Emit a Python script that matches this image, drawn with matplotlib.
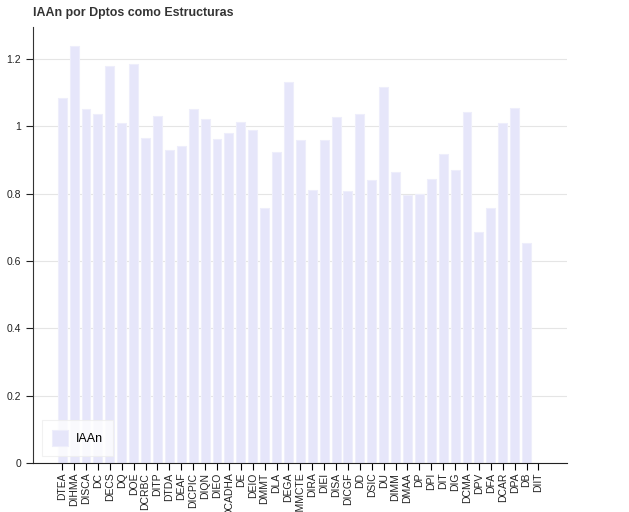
import matplotlib
matplotlib.use("Agg")
import matplotlib.pyplot as plt
from matplotlib.ticker import FuncFormatter

plt.rcParams['font.family'] = ['Liberation Sans', 'DejaVu Sans']

categories = ["DTEA", "DIHMA", "DISCA", "DC", "DECS", "DQ", "DOE", "DCRBC", "DITP",
              "DTDA", "DEAF", "DICPIC", "DIQN", "DIEO", "DCADHA", "DE", "DEIO", "DMMT",
              "DLA", "DEGA", "DMMCTE", "DIRA", "DIEI", "DISA", "DICGF", "DD", "DSIC",
              "DU", "DIMM", "DMAA", "DP", "DPI", "DIT", "DIG", "DCMA", "DPV", "DFA",
              "DCAR", "DPA", "DB", "DIIT"]
values = [1.084, 1.237, 1.050, 1.036, 1.180, 1.008, 1.185, 0.966, 1.029,
          0.928, 0.941, 1.050, 1.021, 0.961, 0.980, 1.012, 0.988, 0.758,
          0.923, 1.132, 0.958, 0.810, 0.960, 1.028, 0.808, 1.036, 0.840,
          1.117, 0.865, 0.795, 0.798, 0.842, 0.917, 0.869, 1.042, 0.687, 0.757,
          1.010, 1.055, 0.652, 0.0]
series_name = "IAAn"
yticks = [0, 0.2, 0.4, 0.6, 0.8, 1.0, 1.2]

fig = plt.figure(figsize=(6.29, 5.12), dpi=100)
ax = fig.add_axes([0.0525, 0.0957, 0.849, 0.852])

x = list(range(len(categories)))
ax.bar(x, values, width=0.75, color="#E6E6FA", edgecolor="#EEEEFB", linewidth=0.8,
       label=series_name, zorder=2)

ax.set_xlim(-2.45, len(categories) - 1 + 2.4)
ax.set_ylim(0, 1.295)
ax.set_xticks(x)
ax.set_xticklabels(categories, rotation=90, fontsize=7.5, color="#222222")
ax.set_yticks(yticks)
ax.yaxis.set_major_formatter(FuncFormatter(lambda v, p: f"{v:g}"))
ax.tick_params(axis='y', labelsize=7.5, colors="#222222", length=5, width=0.8)
ax.tick_params(axis='x', length=5, width=0.8, pad=2)

ax.grid(axis='y', color="#E5E5E5", linewidth=0.8, zorder=0)
ax.set_axisbelow(True)
for s in ["top", "right"]:
    ax.spines[s].set_visible(False)
ax.spines["left"].set_color("#333333")
ax.spines["bottom"].set_color("#222222")

leg = ax.legend(loc="lower left", bbox_to_anchor=(0.016, 0.017), fontsize=9,
                frameon=True, fancybox=False, handlelength=1.35, handleheight=1.6,
                borderpad=0.8, handletextpad=0.6, borderaxespad=0)
leg.get_frame().set_edgecolor("#EEEEEE")
leg.get_frame().set_linewidth(0.8)

fig.text(0.0525, 0.962, "IAAn por Dptos como Estructuras", fontsize=8.9,
         fontweight="bold", color="#333333", ha="left", va="bottom")

fig.savefig("out.png", dpi=100)
